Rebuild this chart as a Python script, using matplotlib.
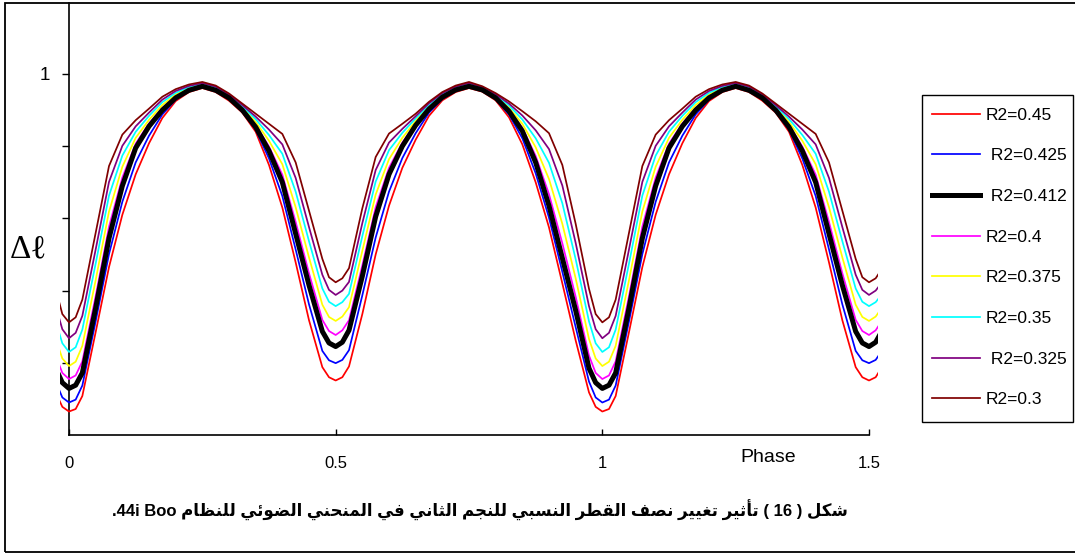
import numpy as np
import matplotlib
matplotlib.use('Agg')
import matplotlib.pyplot as plt
from matplotlib.patches import Rectangle

# one period of the light curve (it repeats every 1.0 in phase)
phase = [0.000, 0.0125, 0.025, 0.050, 0.075, 0.100, 0.125, 0.150, 0.175, 0.200, 0.225,
         0.250, 0.275, 0.300, 0.325, 0.350, 0.375, 0.400, 0.425, 0.450, 0.475, 0.4875,
         0.500, 0.5125, 0.525, 0.550, 0.575, 0.600, 0.625, 0.650, 0.675, 0.700, 0.725,
         0.750, 0.775, 0.800, 0.825, 0.850, 0.875, 0.900, 0.925, 0.950, 0.975, 0.9875]

r2_450 = [0.065, 0.072, 0.108, 0.285, 0.465, 0.610, 0.722, 0.808, 0.878, 0.925, 0.950,
          0.961, 0.950, 0.926, 0.893, 0.840, 0.748, 0.630, 0.478, 0.318, 0.188, 0.160,
          0.151, 0.160, 0.190, 0.335, 0.500, 0.635, 0.740, 0.818, 0.884, 0.927, 0.950,
          0.961, 0.951, 0.927, 0.880, 0.805, 0.700, 0.575, 0.420, 0.262, 0.118, 0.078]
r2_425 = [0.090, 0.098, 0.137, 0.315, 0.501, 0.646, 0.755, 0.829, 0.888, 0.929, 0.952,
          0.963, 0.952, 0.930, 0.896, 0.846, 0.766, 0.662, 0.514, 0.362, 0.233, 0.207,
          0.199, 0.208, 0.235, 0.387, 0.547, 0.674, 0.767, 0.836, 0.893, 0.931, 0.953,
          0.963, 0.953, 0.930, 0.888, 0.822, 0.725, 0.602, 0.452, 0.299, 0.148, 0.104]
r2_412 = [0.129, 0.138, 0.172, 0.352, 0.545, 0.690, 0.795, 0.855, 0.900, 0.934, 0.955,
          0.966, 0.955, 0.934, 0.900, 0.853, 0.787, 0.700, 0.558, 0.415, 0.287, 0.255,
          0.245, 0.257, 0.290, 0.440, 0.605, 0.722, 0.800, 0.858, 0.903, 0.936, 0.956,
          0.966, 0.956, 0.934, 0.897, 0.842, 0.755, 0.635, 0.490, 0.345, 0.185, 0.145]
r2_400 = [0.155, 0.165, 0.204, 0.385, 0.577, 0.713, 0.807, 0.863, 0.906, 0.938, 0.958,
          0.968, 0.957, 0.936, 0.903, 0.859, 0.799, 0.721, 0.590, 0.448, 0.319, 0.288,
          0.277, 0.290, 0.318, 0.470, 0.631, 0.740, 0.810, 0.863, 0.906, 0.938, 0.958,
          0.968, 0.958, 0.936, 0.901, 0.851, 0.773, 0.667, 0.531, 0.383, 0.220, 0.172]
r2_375 = [0.191, 0.203, 0.247, 0.429, 0.619, 0.743, 0.823, 0.873, 0.914, 0.943, 0.961,
          0.970, 0.960, 0.938, 0.907, 0.867, 0.815, 0.750, 0.631, 0.492, 0.361, 0.327,
          0.316, 0.328, 0.354, 0.510, 0.666, 0.764, 0.823, 0.870, 0.910, 0.941, 0.960,
          0.970, 0.960, 0.939, 0.907, 0.862, 0.797, 0.709, 0.585, 0.434, 0.266, 0.212]
r2_350 = [0.230, 0.243, 0.292, 0.475, 0.663, 0.774, 0.840, 0.884, 0.922, 0.948, 0.964,
          0.973, 0.963, 0.941, 0.911, 0.875, 0.831, 0.779, 0.674, 0.537, 0.406, 0.369,
          0.357, 0.368, 0.391, 0.551, 0.702, 0.789, 0.837, 0.877, 0.915, 0.944, 0.963,
          0.973, 0.962, 0.942, 0.913, 0.874, 0.822, 0.754, 0.642, 0.487, 0.315, 0.254]
r2_325 = [0.268, 0.283, 0.330, 0.514, 0.701, 0.801, 0.855, 0.893, 0.929, 0.953, 0.967,
          0.975, 0.965, 0.943, 0.914, 0.882, 0.846, 0.805, 0.712, 0.576, 0.444, 0.402,
          0.388, 0.400, 0.424, 0.587, 0.734, 0.810, 0.848, 0.883, 0.919, 0.947, 0.965,
          0.975, 0.964, 0.944, 0.918, 0.885, 0.844, 0.792, 0.691, 0.532, 0.357, 0.293]
r2_300 = [0.312, 0.326, 0.375, 0.560, 0.745, 0.832, 0.872, 0.904, 0.937, 0.958, 0.971,
          0.978, 0.968, 0.946, 0.918, 0.890, 0.862, 0.834, 0.755, 0.622, 0.488, 0.437,
          0.423, 0.434, 0.462, 0.628, 0.770, 0.835, 0.862, 0.890, 0.923, 0.950, 0.968,
          0.978, 0.966, 0.947, 0.924, 0.897, 0.869, 0.836, 0.748, 0.585, 0.405, 0.335]

labels = ['R2=0.45', ' R2=0.425', ' R2=0.412', 'R2=0.4',
          'R2=0.375', 'R2=0.35', ' R2=0.325', 'R2=0.3']
series = [r2_450, r2_425, r2_412, r2_400, r2_375, r2_350, r2_325, r2_300]
colors = ['#ff0000', '#0000ff', '#000000', '#ff00ff',
          '#ffff00', '#00ffff', '#800080', '#800000']
widths = [1.25, 1.25, 3.6, 1.25, 1.25, 1.25, 1.25, 1.25]

xticks = [0, 0.5, 1, 1.5]
xticklabels = ['0', '0.5', '1', '1.5']
yticks = [0.2, 0.4, 0.6, 0.8, 1.0]
yticklabels = ['', '', '', '', '1']


def shape_arabic(word):
    # isolated, final, initial, medial presentation forms
    forms = {
        'ا': ('\uFE8D', '\uFE8E', None, None),
        'أ': ('\uFE83', '\uFE84', None, None),
        'ب': ('\uFE8F', '\uFE90', '\uFE91', '\uFE92'),
        'ت': ('\uFE95', '\uFE96', '\uFE97', '\uFE98'),
        'ث': ('\uFE99', '\uFE9A', '\uFE9B', '\uFE9C'),
        'ج': ('\uFE9D', '\uFE9E', '\uFE9F', '\uFEA0'),
        'ح': ('\uFEA1', '\uFEA2', '\uFEA3', '\uFEA4'),
        'ر': ('\uFEAD', '\uFEAE', None, None),
        'س': ('\uFEB1', '\uFEB2', '\uFEB3', '\uFEB4'),
        'ش': ('\uFEB5', '\uFEB6', '\uFEB7', '\uFEB8'),
        'ص': ('\uFEB9', '\uFEBA', '\uFEBB', '\uFEBC'),
        'ض': ('\uFEBD', '\uFEBE', '\uFEBF', '\uFEC0'),
        'ط': ('\uFEC1', '\uFEC2', '\uFEC3', '\uFEC4'),
        'ظ': ('\uFEC5', '\uFEC6', '\uFEC7', '\uFEC8'),
        'غ': ('\uFECD', '\uFECE', '\uFECF', '\uFED0'),
        'ف': ('\uFED1', '\uFED2', '\uFED3', '\uFED4'),
        'ق': ('\uFED5', '\uFED6', '\uFED7', '\uFED8'),
        'ك': ('\uFED9', '\uFEDA', '\uFEDB', '\uFEDC'),
        'ل': ('\uFEDD', '\uFEDE', '\uFEDF', '\uFEE0'),
        'م': ('\uFEE1', '\uFEE2', '\uFEE3', '\uFEE4'),
        'ن': ('\uFEE5', '\uFEE6', '\uFEE7', '\uFEE8'),
        'و': ('\uFEED', '\uFEEE', None, None),
        'ئ': ('\uFE89', '\uFE8A', '\uFE8B', '\uFE8C'),
        'ي': ('\uFEF1', '\uFEF2', '\uFEF3', '\uFEF4'),
    }
    out = []
    for i, ch in enumerate(word):
        f = forms[ch]
        join_prev = i > 0 and forms[word[i - 1]][2] is not None
        join_next = i < len(word) - 1 and f[2] is not None
        if join_prev and join_next:
            out.append(f[3])
        elif join_prev:
            out.append(f[1])
        elif join_next:
            out.append(f[2])
        else:
            out.append(f[0])
    return ''.join(reversed(out))


# caption, logical order: شكل ( 16 ) تأثير تغيير نصف القطر النسبي للنجم الثاني في المنحني الضوئي للنظام 44i Boo.
words = ['تأثير', 'تغيير', 'نصف', 'القطر', 'النسبي', 'للنجم',
         'الثاني', 'في', 'المنحني', 'الضوئي', 'للنظام']
caption = '.44i Boo ' + ' '.join(shape_arabic(w) for w in reversed(words)) \
          + ' ( 16 ) ' + shape_arabic('شكل')

W, H = 1075, 555
fig = plt.figure(figsize=(W / 100, H / 100), dpi=100)
fig.add_artist(Rectangle((5 / W, 3 / H), (1090 - 5) / W, (552 - 3) / H,
                         transform=fig.transFigure, fill=False,
                         edgecolor='black', linewidth=1.3))

x0, x15, y0, y1 = 69, 869, 435, 74     # pixel positions of phase 0/1.5 and level 0/1
ppx = (x15 - x0) / 1.5
ppy = y0 - y1
left, right, top = 59.7, 878.3, 3
ax = fig.add_axes([left / W, 1 - y0 / H, (right - left) / W, (y0 - top) / H])
ax.set_xlim((left - x0) / ppx, (right - x0) / ppx)
ax.set_ylim(0, (y0 - top) / ppy)

ph = np.array(phase)
x = np.concatenate([ph - 1, ph, ph + 1, ph + 2])
handles = []
for vals, lab, col, lw in zip(series, labels, colors, widths):
    z = 4 if col == '#000000' else 3
    line, = ax.plot(x, np.tile(vals, 4), color=col, lw=lw, label=lab, zorder=z)
    handles.append(line)

for s in ['top', 'right']:
    ax.spines[s].set_visible(False)
ax.spines['left'].set_position(('data', 0))
ax.spines['bottom'].set_bounds(0, 1.5)
for s in ['left', 'bottom']:
    ax.spines[s].set_linewidth(1.2)

ax.set_xticks(xticks)
ax.set_xticklabels(xticklabels, family='Liberation Sans')
ax.set_yticks(yticks)
ax.set_yticklabels(yticklabels, family='Liberation Sans')
ax.tick_params(axis='x', direction='in', length=4, width=1, pad=15, labelsize=12)
ax.tick_params(axis='y', direction='out', length=5, width=1, pad=9, labelsize=13.5)

fig.text(768 / W, 1 - 458 / H, 'Phase', ha='center', va='center',
         fontsize=14, family='Liberation Sans')
fig.text(28 / W, 1 - 249 / H, 'Δℓ', ha='center', va='center',
         fontsize=24, family=['Liberation Serif', 'DejaVu Serif'])
fig.text(480 / W, 1 - 510 / H, caption, ha='center', va='center',
         fontsize=12, weight='bold', family=['Liberation Sans', 'DejaVu Sans'])

# legend box drawn on its own so that it sits where the reference has it
fig.add_artist(Rectangle((922 / W, 1 - 422 / H), (1072.5 - 922) / W, (422 - 95) / H,
                         transform=fig.transFigure, fill=False,
                         edgecolor='black', linewidth=1.0, zorder=5))
ax.legend(handles=handles, loc='upper left',
          bbox_to_anchor=(919.5 / W, 1 - 95 / H), bbox_transform=fig.transFigure,
          borderaxespad=0, frameon=False,
          prop={'family': 'Liberation Sans', 'size': 12.5},
          handlelength=2.75, handletextpad=0.35, labelspacing=1.47,
          borderpad=0.72)

fig.savefig('out.png', dpi=100)
